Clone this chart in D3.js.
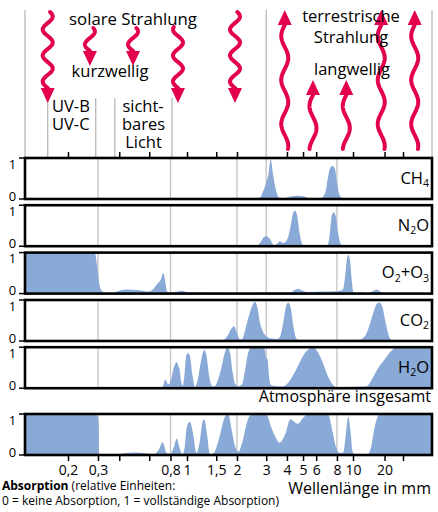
<!DOCTYPE html>
<html>
<head>
<meta charset="utf-8">
<script src="https://cdn.jsdelivr.net/npm/d3@7"></script>
<style>
  body { margin: 0; background: #fff; }
  svg { display: block; font-family: "Open Sans", sans-serif; }
</style>
</head>
<body>
<svg id="chart" width="438" height="512"></svg>
<script>
// absorption spectra: [wavelength (µm), absorption 0..1]
const ch4 = [[0.11,0],[2.6,0],[2.72,0.01],[2.85,0.15],[3.0,0.4],[3.1,0.62],[3.19,0.97],[3.3,0.6],[3.42,0.25],[3.6,0.03],[3.8,0.02],[4.2,0.06],[4.6,0.08],[5.1,0.06],[5.5,0.01],[6.4,0.01],[6.8,0.15],[7.05,0.5],[7.3,0.77],[7.55,0.81],[7.8,0.72],[8.0,0.42],[8.3,0.1],[8.7,0.01],[9,0],[60,0]];
const n2o = [[0.11,0],[2.6,0],[2.75,0.08],[2.9,0.22],[3.0,0.25],[3.15,0.18],[3.34,0.03],[3.5,0.06],[3.63,0.12],[3.79,0.08],[4.0,0.15],[4.2,0.47],[4.35,0.8],[4.47,0.87],[4.62,0.72],[4.78,0.3],[4.95,0.05],[5.14,0],[7.0,0],[7.2,0.2],[7.45,0.75],[7.68,0.83],[7.9,0.7],[8.15,0.3],[8.45,0.05],[8.7,0],[60,0]];
const o2o3 = [[0.11,1],[0.288,1],[0.292,0.88],[0.296,0.7],[0.301,0.45],[0.306,0.22],[0.314,0.08],[0.33,0.02],[0.35,0],[0.37,0.02],[0.4,0.07],[0.45,0.1],[0.52,0.08],[0.59,0.05],[0.63,0.1],[0.67,0.24],[0.7,0.33],[0.726,0.5],[0.745,0.3],[0.762,0.06],[0.8,0.03],[0.88,0.05],[0.93,0.07],[1.0,0.04],[1.2,0.03],[2.0,0.02],[3.5,0.03],[4.2,0.03],[4.5,0.1],[4.7,0.12],[4.9,0.08],[5.3,0.04],[6.5,0.05],[8.0,0.06],[8.7,0.1],[8.95,0.4],[9.2,0.85],[9.4,0.95],[9.6,0.8],[9.85,0.3],[10.1,0.03],[11,0.01],[12.1,0.03],[13,0.01],[15,0.04],[16.8,0.1],[18.5,0.04],[21,0],[60,0]];
const co2 = [[0.11,0],[1.5,0],[1.65,0.02],[1.75,0.12],[1.85,0.3],[1.92,0.36],[2.0,0.2],[2.08,0.04],[2.15,0.05],[2.25,0.3],[2.34,0.56],[2.45,0.82],[2.57,0.96],[2.66,0.8],[2.75,0.45],[2.85,0.25],[3.0,0.12],[3.2,0.06],[3.47,0.05],[3.63,0.1],[3.8,0.45],[3.95,0.85],[4.08,0.94],[4.22,0.8],[4.38,0.35],[4.55,0.07],[4.7,0.03],[11.0,0.03],[12.1,0.05],[13,0.12],[14,0.3],[15.5,0.65],[16.8,0.9],[17.8,0.94],[19,0.85],[20.5,0.45],[22,0.12],[23.4,0.02],[25,0],[60,0]];
const h2o = [[0.11,0],[0.69,0],[0.716,0.02],[0.735,0.15],[0.745,0.21],[0.76,0.15],[0.776,0.09],[0.8,0.15],[0.83,0.45],[0.87,0.63],[0.89,0.55],[0.905,0.45],[0.925,0.15],[0.943,0.06],[0.965,0.3],[0.99,0.8],[1.01,0.86],[1.04,0.8],[1.08,0.3],[1.117,0.03],[1.16,0.2],[1.22,0.7],[1.27,0.93],[1.31,0.8],[1.36,0.3],[1.42,0.05],[1.47,0.05],[1.52,0.15],[1.6,0.45],[1.7,0.9],[1.76,1.0],[1.82,0.85],[1.88,0.4],[1.95,0.1],[2.05,0.05],[2.15,0.1],[2.25,0.5],[2.35,0.9],[2.45,1],[2.88,1],[2.95,0.92],[3.0,0.74],[3.06,0.7],[3.12,0.3],[3.2,0.08],[3.5,0.05],[3.8,0.05],[4.0,0.1],[4.5,0.42],[5.02,0.8],[5.4,0.95],[5.77,1.0],[6.2,0.85],[6.6,0.6],[7.0,0.33],[7.5,0.1],[8.0,0.02],[8.5,0.03],[12,0.04],[13.5,0.05],[15,0.2],[17,0.45],[20,0.7],[23,0.9],[26,1],[60,1]];
const total = [[0.11,1],[0.28,1],[0.29,0.99],[0.297,0.96],[0.301,0.9],[0.3035,0.6],[0.305,0],[0.39,0],[0.41,0.03],[0.5,0.06],[0.6,0.03],[0.64,0.02],[0.68,0.12],[0.72,0.31],[0.76,0.05],[0.795,0.03],[0.84,0.2],[0.87,0.4],[0.9,0.2],[0.94,0.02],[0.97,0.2],[1.0,0.7],[1.04,0.81],[1.09,0.5],[1.14,0.05],[1.19,0.3],[1.24,0.8],[1.27,0.87],[1.32,0.5],[1.376,0.02],[1.45,0.05],[1.56,0.4],[1.68,0.9],[1.77,1],[1.86,0.6],[1.95,0.2],[2.04,0.08],[2.15,0.3],[2.3,0.8],[2.45,1],[3.0,1],[3.2,0.7],[3.4,0.45],[3.6,0.3],[3.9,0.5],[4.2,0.87],[4.45,0.8],[4.66,0.76],[5.0,0.9],[5.36,1],[7.07,1],[7.5,0.6],[7.9,0.2],[8.3,0.05],[8.74,0.06],[9.0,0.4],[9.37,0.93],[9.65,0.6],[9.95,0.08],[10.5,0.01],[12.9,0],[14.0,0.03],[14.9,0.2],[16,0.65],[17.3,0.95],[18.1,1],[60,1]];

const gasLabels = [
  [['CH', false], ['4', true]],
  [['N', false], ['2', true], ['O', false]],
  [['O', false], ['2', true], ['+O', false], ['3', true]],
  [['CO', false], ['2', true]],
  [['H', false], ['2', true], ['O', false]],
  []
];
const spectra = [ch4, n2o, o2o3, co2, h2o, total];

const gridWl = [0.3, 0.8, 2, 3, 8];
const topTicks = [0.2, 0.4, 0.6, 1, 1.5, 2, 4, 5, 6, 10, 20, 30];
const bottomTicks = [0.2, 0.3, 0.4, 0.6, 0.8, 1, 1.5, 2, 3, 4, 5, 6, 8, 10, 20, 30];
const labelledTicks = [0.2, 0.3, 0.8, 1, 1.5, 2, 3, 4, 5, 6, 8, 10, 20];
const bandEdges = [0.152, 0.291, 0.377, 0.816];

// arrows: wavelength of arrow, short or long
const solarArrows = [[0.152, 'long1'], [0.269, 'short'], [0.482, 'short'], [0.885, 'long2'], [1.946, 'long1']];
const earthArrows = [[3.88, 'long'], [5.74, 'short'], [9.11, 'short'], [18.6, 'long'], [38.8, 'long']];

const svg = d3.select('#chart');
const red = '#e2004f';
const fillBlue = '#89aad7';
const gridGray = '#c2c2c2';

const left = 25, right = 432;
const x = d3.scaleLog().domain([0.2, 1, 10, 30]).range([68, 187, 353, 403]);

const panelH = 41;
const panelTops = [158, 205.2, 252.6, 300, 347.2, 414];

// top annotation lines
const topG = svg.append('g').attr('stroke', '#b8b8b8').attr('stroke-width', 1.3);
[left, x(3), right].forEach((px) => {
  topG.append('line').attr('x1', px).attr('x2', px).attr('y1', 10).attr('y2', 157);
});
bandEdges.forEach((w) => {
  topG.append('line').attr('x1', x(w)).attr('x2', x(w)).attr('y1', 98).attr('y2', 157);
});

// panels
panelTops.forEach((top, i) => {
  const y = d3.scaleLinear().domain([0, 1]).range([top + panelH, top]);
  const g = svg.append('g');
  const clipId = `clip${i}`;
  svg.append('clipPath').attr('id', clipId)
    .append('rect').attr('x', left).attr('y', top).attr('width', right - left).attr('height', panelH);

  g.append('g').attr('clip-path', `url(#${clipId})`)
    .selectAll('line').data(gridWl).join('line')
    .attr('x1', (d) => x(d)).attr('x2', (d) => x(d))
    .attr('y1', top).attr('y2', top + panelH)
    .attr('stroke', gridGray).attr('stroke-width', 1.3);

  const area = d3.area()
    .x((d) => x(d[0]))
    .y0(y(0))
    .y1((d) => y(d[1]))
    .curve(d3.curveMonotoneX);

  g.append('path').attr('clip-path', `url(#${clipId})`)
    .datum(spectra[i]).attr('d', area).attr('fill', fillBlue);

  g.append('rect').attr('x', left).attr('y', top).attr('width', right - left).attr('height', panelH)
    .attr('fill', 'none').attr('stroke', '#000').attr('stroke-width', 2.6);

  // y ticks & labels
  [0, 1].forEach((v) => {
    g.append('line').attr('x1', left - 6).attr('x2', left).attr('y1', y(v)).attr('y2', y(v))
      .attr('stroke', '#000').attr('stroke-width', 1.5);
  });
  g.append('text').attr('x', 12.5).attr('y', top + 10.5).attr('text-anchor', 'middle')
    .attr('font-size', 13).text('1');
  g.append('text').attr('x', 12.5).attr('y', top + panelH + 1.5).attr('text-anchor', 'middle')
    .attr('font-size', 13).text('0');

  if (gasLabels[i].length) {
    const t = g.append('text').attr('x', 429).attr('y', top + 25.5)
      .attr('text-anchor', 'end').attr('font-size', 16.5);
    gasLabels[i].forEach(([s, sub]) => {
      const ts = t.append('tspan').text(s);
      if (sub) ts.attr('font-size', 10.5).attr('dy', 3.5);
      else ts.attr('dy', t.selectAll('tspan').size() > 1 ? -3.5 : 0);
    });
  }
});

// axes
const axisTop = d3.axisTop(x).tickValues(topTicks).tickSize(6).tickFormat('');
svg.append('g').attr('transform', `translate(0,${panelTops[0]})`).call(axisTop)
  .call((g) => g.select('.domain').remove())
  .call((g) => g.selectAll('.tick line').attr('stroke-width', 1.5));

const bottomY = panelTops[5] + panelH;
const axisBottom = d3.axisBottom(x).tickValues(bottomTicks).tickSize(6).tickPadding(4)
  .tickFormat((d) => (labelledTicks.includes(d) ? String(d).replace('.', ',') : ''));
svg.append('g').attr('transform', `translate(0,${bottomY})`).call(axisBottom)
  .call((g) => g.select('.domain').remove())
  .call((g) => g.selectAll('.tick line').attr('stroke-width', 1.5))
  .call((g) => g.selectAll('.tick text').attr('font-size', 14).attr('font-family', '"Open Sans", sans-serif').attr('fill', '#000'));

// wavy arrows
function wavyArrow(cx, yTail, yTip, up, period, amp) {
  const head = 15, hw = 7;
  const yBase = up ? yTip + head : yTip - head;
  const pts = d3.range(0, 1.0001, 0.01).map((t) => {
    const yy = yBase + (yTail - yBase) * t;
    const dist = Math.abs(yy - yBase);
    return [cx - amp * Math.sin((2 * Math.PI * dist) / period), yy];
  });
  pts.unshift([cx, up ? yBase - 2 : yBase + 2]);
  svg.append('path').attr('d', d3.line()(pts)).attr('fill', 'none')
    .attr('stroke', red).attr('stroke-width', 4).attr('stroke-linecap', 'round');
  svg.append('path').attr('d', `M${cx - hw},${yBase}L${cx + hw},${yBase}L${cx},${yTip}Z`).attr('fill', red);
}
solarArrows.forEach(([w, kind]) => {
  if (kind === 'short') wavyArrow(x(w), 28, 66, false, 26, 5);
  else if (kind === 'long1') wavyArrow(x(w), 12, 103, false, 26, 5);
  else wavyArrow(x(w), 27, 103, false, 26, 5);
});
earthArrows.forEach(([w, kind]) => {
  if (kind === 'short') wavyArrow(x(w), 149, 80, true, 44, 3.5);
  else wavyArrow(x(w), 149, 10, true, 44, 3.5);
});

// texts
const txt = (s, px, py, anchor, size, weight) => svg.append('text').attr('x', px).attr('y', py)
  .attr('text-anchor', anchor).attr('font-size', size).attr('font-weight', weight || 'normal').text(s);
txt('solare Strahlung', 133, 25, 'middle', 16.8);
txt('kurzwellig', 110, 77, 'middle', 16.5);
txt('UV-B', 52, 112, 'start', 16.5);
txt('UV-C', 52, 130, 'start', 16.5);
txt('sicht-', 143, 112, 'middle', 16.5);
txt('bares', 143.5, 130, 'middle', 16.5);
txt('Licht', 143.5, 147.5, 'middle', 16.5);
txt('terrestrische', 351, 22, 'middle', 16.5);
txt('Strahlung', 351, 43, 'middle', 16.5);
txt('langwellig', 352, 75, 'middle', 16.5);
txt('Atmosphäre insgesamt', 431, 402, 'end', 16);
txt('Wellenlänge in mm', 431, 494, 'end', 16);

const note = svg.append('text').attr('x', 2).attr('y', 490).attr('font-size', 12);
note.append('tspan').attr('font-weight', 'bold').text('Absorption');
note.append('tspan').text(' (relative Einheiten:');
txt('0 = keine Absorption, 1 = vollständige Absorption)', 2, 505, 'start', 12);
</script>
</body>
</html>
